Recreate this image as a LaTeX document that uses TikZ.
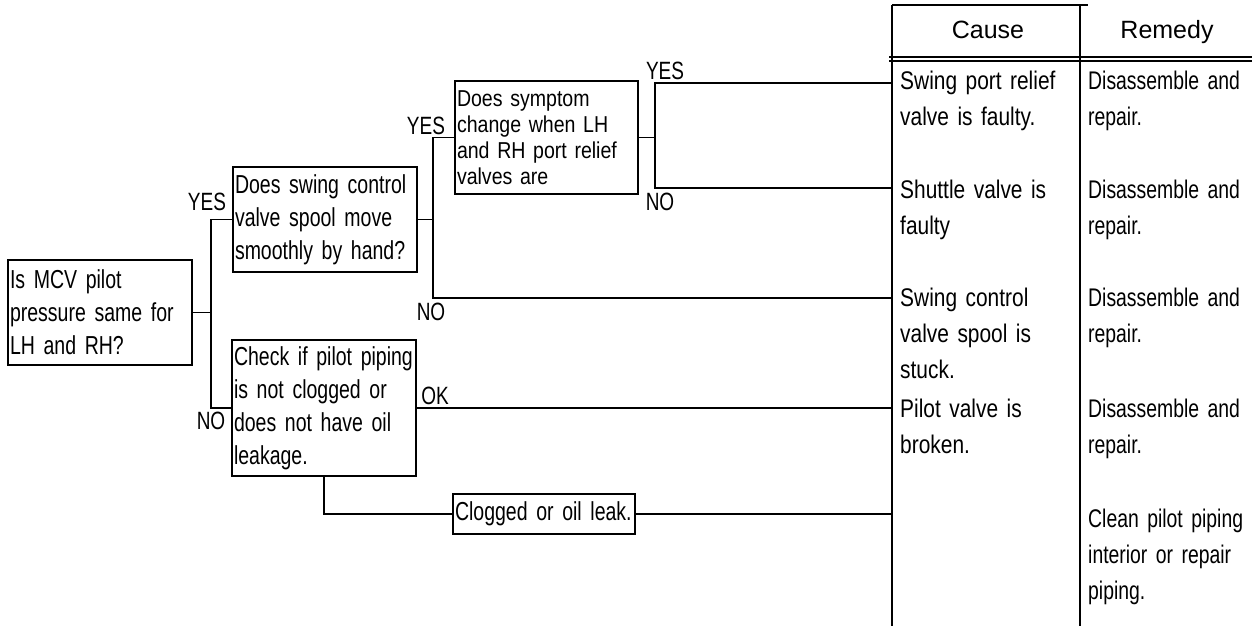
\documentclass[tikz,border=0pt]{standalone}
\usepackage{fontspec}
\setmainfont{Liberation Sans}
\newfontfamily\narrowsf{Liberation Sans}[FakeStretch=0.75]
\newfontfamily\tightsf{Liberation Sans}[FakeStretch=0.85]
\newfontfamily\causesf{Liberation Sans}[FakeStretch=0.82]
\newfontfamily\remedysf{Liberation Sans}[FakeStretch=0.76]
\newfontfamily\tagsf{Liberation Sans}[FakeStretch=0.76]
\usepackage{tikz}

\newcommand\boxfont{\narrowsf\fontsize{26}{33}\selectfont\fontdimen2\font=4.5pt\relax}
\newcommand\symptomfont{\tightsf\fontsize{23}{26}\selectfont\fontdimen2\font=4.5pt\relax}
\newcommand\causefont{\causesf\fontsize{25.5}{36}\selectfont\fontdimen2\font=5.5pt\relax}
\newcommand\remedyfont{\remedysf\fontsize{25.5}{36}\selectfont\fontdimen2\font=4.8pt\relax}

\tikzset{
  qbox/.style={draw, line width=1.2pt, align=left, inner xsep=2pt, inner ysep=0pt, font=\boxfont},
  wire/.style={line width=1.1pt},
  tag/.style={inner sep=0pt, font=\tagsf\fontsize{25}{26}\selectfont},
  head/.style={inner sep=0pt, anchor=base, font=\fontsize{25}{28}\selectfont},
  cause/.style={inner sep=0pt, anchor=base west, align=left, text width=176pt, font=\causefont},
  remedy/.style={inner sep=0pt, anchor=base west, align=left, text width=162pt, font=\remedyfont}
}

\begin{document}
\begin{tikzpicture}[x=1pt, y=-1pt]
            \useasboundingbox (0,0) rectangle (1252,626);

            % questions
            \node[qbox, text width=180pt, minimum height=105pt] at (100,312.5) (q1) {Is MCV pilot\\pressure same for\\LH and RH?};
            \node[qbox, text width=180pt, minimum height=105pt] at (325,219.5) (q2) {Does swing control\\valve spool move\\smoothly by hand?};
            \node[qbox, text width=180pt, minimum height=136pt] at (324,408) (q3) {Check if pilot piping\\is not clogged or\\does not have oil\\leakage.};
            \node[qbox, text width=179pt, minimum height=113pt, font=\symptomfont] at (546.5,137.5) (q4) {Does symptom\\change when LH\\and RH port relief\\valves are};
            \node[qbox, text width=178pt, minimum height=40pt] at (544,514) (clog) {Clogged or oil leak.};

            % branch labels
            \node[tag] at (207,202) (yes1) {YES};
            \node[tag] at (211,421) (no1) {NO};
            \node[tag] at (426,126) (yes2) {YES};
            \node[tag] at (431,312) (no2) {NO};
            \node[tag] at (665,71) (yes3) {YES};
            \node[tag] at (660,202) (no3) {NO};
            \node[tag] at (435,396) (ok) {OK};

            % junctions and table ends
            \coordinate (j1) at (211,312.5);
            \coordinate (j2) at (433,219.5);
            \coordinate (j4) at (655,137.5);
            \coordinate (t1) at (892,83);
            \coordinate (t2) at (892,188);
            \coordinate (t3) at (892,298);
            \coordinate (t4) at (892,408);
            \coordinate (t5) at (892,514);

            \draw [wire] (q1.east) -- (j1);
            \draw [wire] (q2.west) -| (j1) |- (q3.west);
            \draw [wire] (q2.east) -- (j2);
            \draw [wire] (q4.west) -| (j2) |- (t3);
            \draw [wire] (q4.east) -- (j4);
            \draw [wire] (t1) -| (j4) |- (t2);
            \draw [wire] (q3.east) -- (t4);
            \draw [wire] (q3.south) |- (clog.west);
            \draw [wire] (clog.east) -- (t5);

            % table
            \draw [wire] (892,5) -- (1088,5);
            \draw [wire] (892,5) -- (892,626);
            \draw [wire] (1080,5) -- (1080,626);
            \draw [wire] (889,57) -- (1252,57);
            \draw [wire] (889,61) -- (1252,61);
            \node[head] at (988,39) (hcause) {Cause};
            \node[head] at (1167,39) (hremedy) {Remedy};

            \node[cause] at (900,89) (c1) {Swing port relief\\valve is faulty.};
            \node[cause] at (900,198) (c2) {Shuttle valve is\\faulty};
            \node[cause] at (900,306) (c3) {Swing control\\valve spool is\\stuck.};
            \node[cause] at (900,417) (c4) {Pilot valve is\\broken.};

            \node[remedy] at (1088,89) (r1) {Disassemble and\\repair.};
            \node[remedy] at (1088,198) (r2) {Disassemble and\\repair.};
            \node[remedy] at (1088,306) (r3) {Disassemble and\\repair.};
            \node[remedy] at (1088,417) (r4) {Disassemble and\\repair.};
            \node[remedy] at (1088,527) (r5) {Clean pilot piping\\interior or repair\\piping.};
        \end{tikzpicture}
\end{document}
